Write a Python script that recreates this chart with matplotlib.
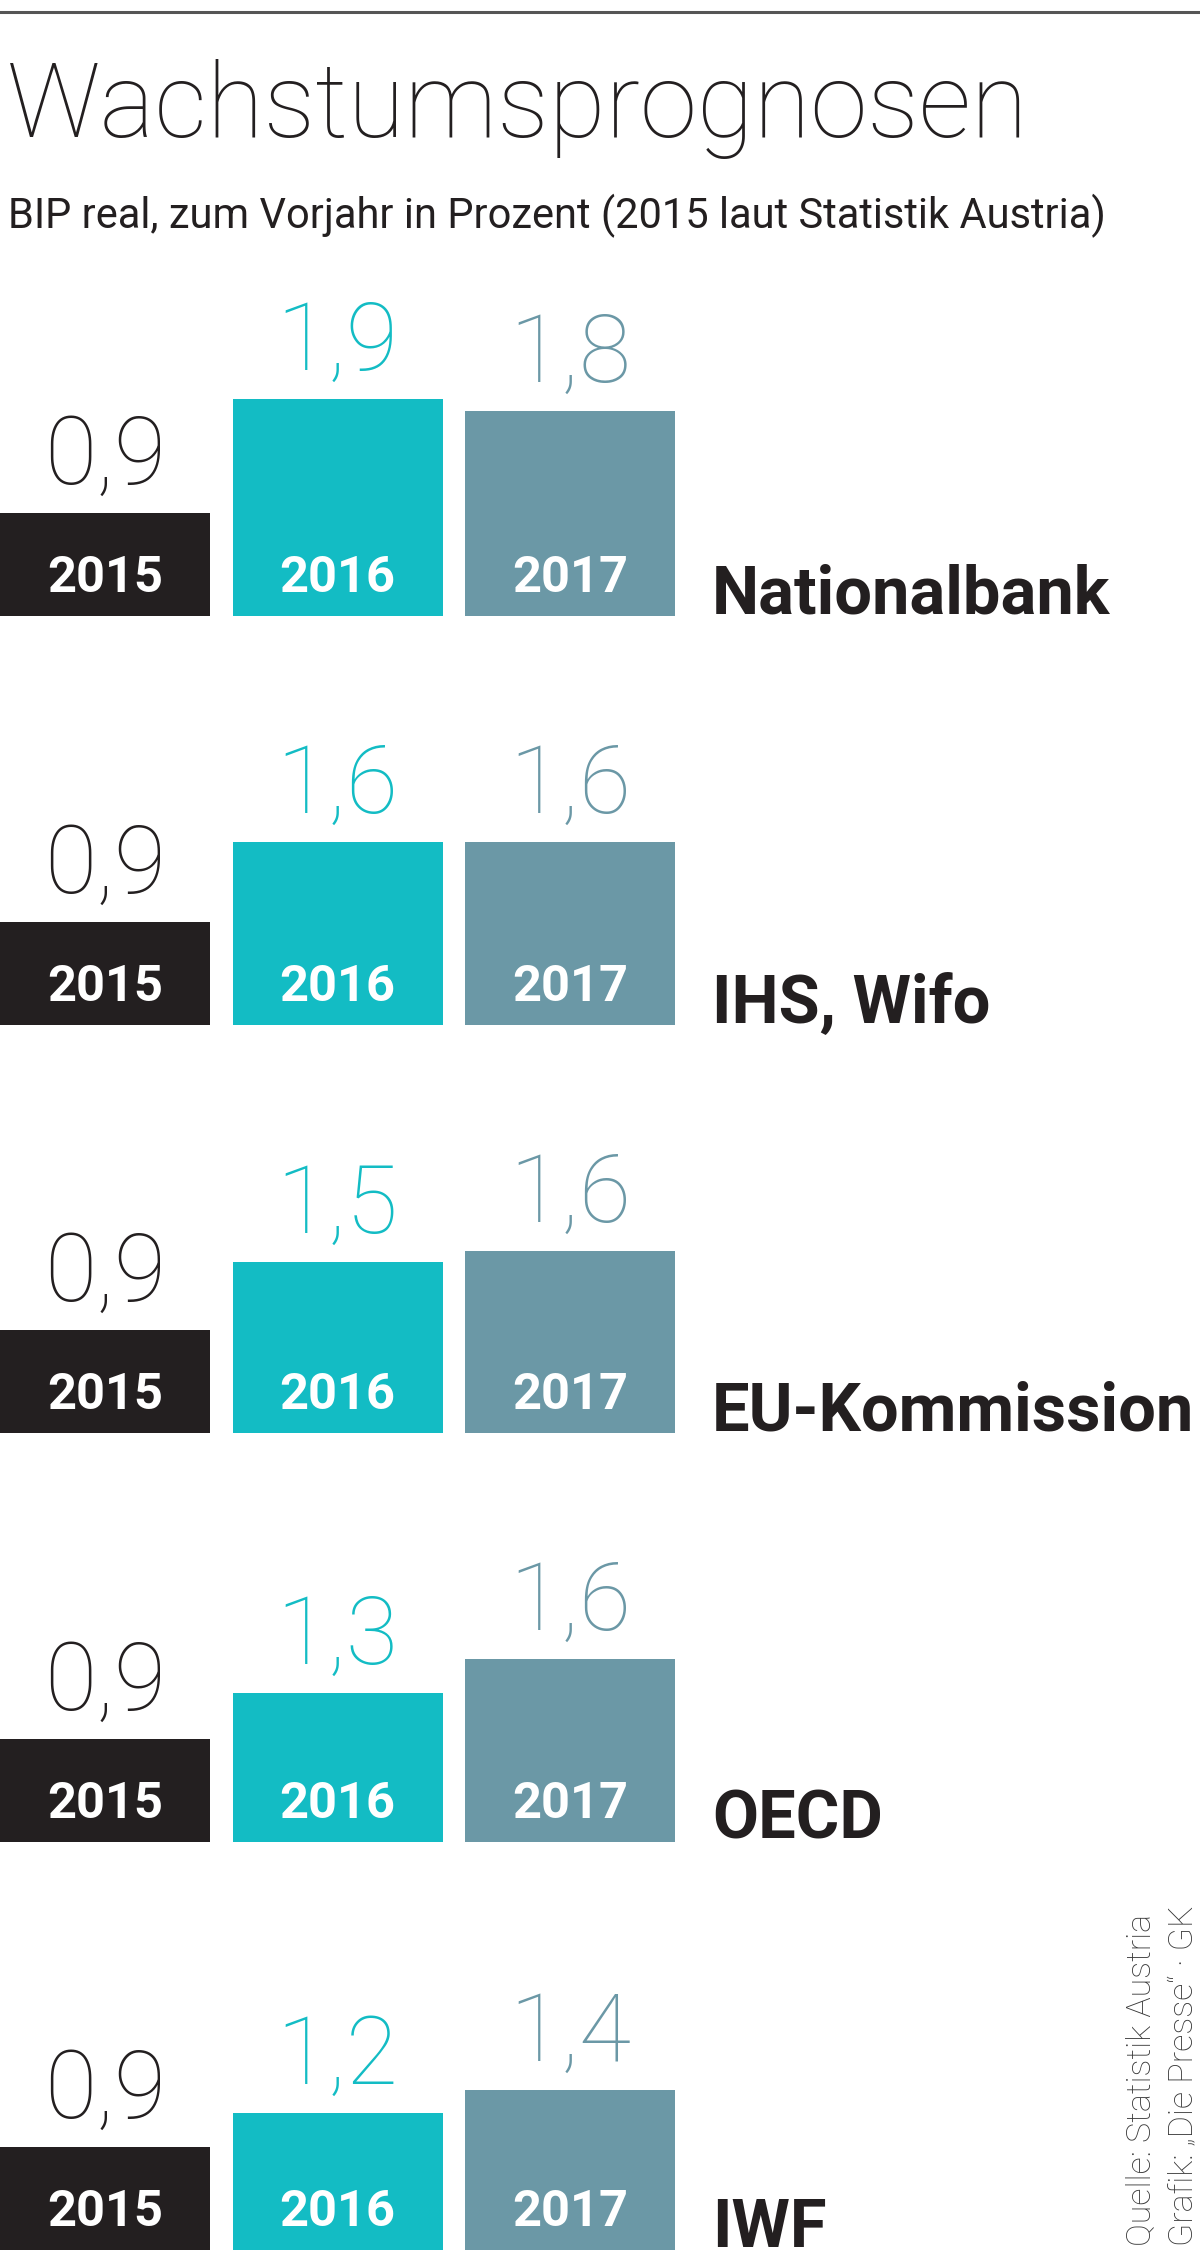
import matplotlib
matplotlib.use("Agg")
import matplotlib.pyplot as plt
from matplotlib import font_manager as fm

# Daten: BIP real, Veraenderung zum Vorjahr in %
institute = ["Nationalbank", "IHS, Wifo", "EU-Kommission", "OECD", "IWF"]
jahre = ["2015", "2016", "2017"]
wert_2015 = [0.9, 0.9, 0.9, 0.9, 0.9]
wert_2016 = [1.9, 1.6, 1.5, 1.3, 1.2]
wert_2017 = [1.8, 1.6, 1.6, 1.6, 1.4]

farben = ["#231f20", "#13bcc4", "#6b98a6"]
textfarben = ["#231f20", "#13bcc4", "#6b98a6"]

W, H = 1200, 2254
names = {f.name for f in fm.fontManager.ttflist}
schrift = next((n for n in ["Liberation Sans Narrow", "Roboto", "Liberation Sans"] if n in names), "DejaVu Sans")
plt.rcParams["font.family"] = [schrift, "DejaVu Sans"]

fig = plt.figure(figsize=(W / 100, H / 100), dpi=100)
fig.patch.set_facecolor("white")


def fy(px):
    return 1 - px / H


def fit(t, target, vertical=False):
    # schriftgroesse so anpassen, dass der text die gemessene breite hat
    r = fig.canvas.get_renderer()
    bb = t.get_window_extent(r)
    w = bb.height if vertical else bb.width
    t.set_fontsize(t.get_fontsize() * target / w)


fig.add_artist(plt.Line2D([0, 1], [fy(12), fy(12)], transform=fig.transFigure,
                          color="#555555", lw=2.2))

titel = fig.text(7 / W, fy(137), "Wachstumsprognosen", fontsize=90, fontweight="light",
                 color="#231f20", va="baseline", ha="left")
unter = fig.text(8 / W, fy(228), "BIP real, zum Vorjahr in Prozent (2015 laut Statistik Austria)",
                 fontsize=40, color="#231f20", va="baseline", ha="left")
fig.canvas.draw()
fit(titel, 1022)
fit(unter, 1098)

px_pro_einheit = 114
pitch = 232.5
achse_h = 400
unten = [616, 1024.5, 1433, 1841.5, 2250]
ziel_breite = {"Nationalbank": 414, "EU-Kommission": 482}

labels = []
for g, name in enumerate(institute):
    werte = [wert_2015[g], wert_2016[g], wert_2017[g]]
    ax = fig.add_axes([0, fy(unten[g]), 1, achse_h / H])
    ax.set_xlim(-105 / pitch, (W - 105) / pitch)
    ax.set_ylim(0, achse_h / px_pro_einheit)
    ax.axis("off")
    ax.bar(range(3), werte, width=210 / pitch, color=farben, linewidth=0)

    for i, v in enumerate(werte):
        t = ax.annotate(f"{v:.1f}".replace(".", ","), (i, v), xytext=(0, 21),
                        textcoords="offset points", ha="center", va="baseline",
                        fontsize=70, fontweight="light", color=textfarben[i])
        fig.canvas.draw()
        fit(t, 122)
        j = ax.annotate(jahre[i], (i, 0), xytext=(0, 17), textcoords="offset points",
                        ha="center", va="baseline", fontsize=42, fontweight="bold",
                        color="white")
        fit(j, 116)

    lab = ax.annotate(name, (712 / W, 0), xycoords=("axes fraction", "data"),
                      xytext=(0, 2), textcoords="offset points", ha="left",
                      va="baseline", fontsize=56, fontweight="bold", color="#231f20")
    labels.append(lab)

fig.canvas.draw()
r = fig.canvas.get_renderer()
groesse = min(labels[institute.index(n)].get_fontsize() * b /
              labels[institute.index(n)].get_window_extent(r).width
              for n, b in ziel_breite.items())
for lab in labels:
    lab.set_fontsize(groesse)

q1 = fig.text(1150 / W, fy(2246), "Quelle: Statistik Austria", rotation=90,
              rotation_mode="anchor", ha="left", va="baseline", fontsize=30,
              fontweight="light", color="#3a3a3a")
q2 = fig.text(1192 / W, fy(2246), "Grafik: \u201eDie Presse\u201c \u00b7 GK", rotation=90,
              rotation_mode="anchor", ha="left", va="baseline", fontsize=30,
              fontweight="light", color="#3a3a3a")
fig.canvas.draw()
fit(q1, 332, vertical=True)
q2.set_fontsize(q1.get_fontsize())

fig.savefig("out.png", dpi=100, facecolor="white")
